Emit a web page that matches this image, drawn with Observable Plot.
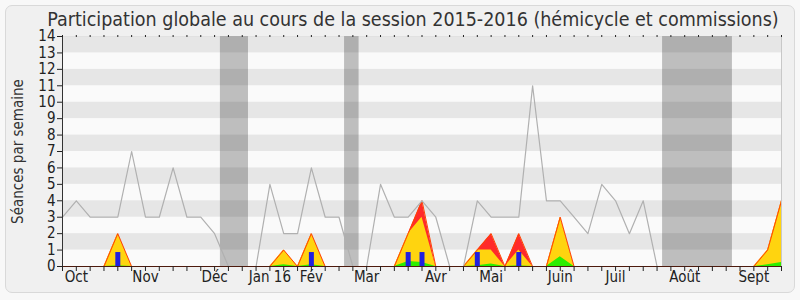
<!DOCTYPE html>
<html><head><meta charset="utf-8">
<script src="https://cdn.jsdelivr.net/npm/d3@7"></script>
<script src="https://cdn.jsdelivr.net/npm/@observablehq/plot@0.6"></script>
<style>
body{margin:0;background:#f8f8f8;}
#wrap{position:relative;width:800px;height:300px;overflow:hidden}
#box{position:absolute;left:5px;top:5px;width:788px;height:286px;border:1px solid #d9d9d9;border-radius:7px;background:#f0f0f0}
#chart{position:absolute;left:0;top:0}
</style></head><body><div id="wrap"><div id="box"></div><div id="chart"></div></div>
<script>
const titleText = "Participation globale au cours de la session 2015-2016 (hémicycle et commissions)";
const yLabel = "Séances par semaine";
const weeks = d3.range(0, 53);
// séances en hémicycle (ligne grise)
const seances = [3,4,3,3,3,7,3,3,6,3, 3,2,0,0,0,5,2,2,6,3, 3,0,0,5,3,3,4,3,0,0, 4,3,3,3,11,4,4,3,2,5, 4,2,4,0,0,0,0,0,0,0, 0,0,0];
// commission : total (rouge), présences (jaune), interventions (vert)
const commTotal = [0,0,0,0,2,0,0,0,0,0, 0,0,0,0,0,0,1,0,2,0, 0,0,0,0,0,2,4,0,0,0, 1,2,0,2,0,0,3,0,0,0, 0,0,0,0,0,0,0,0,0,0, 0,1,4];
const commPres  = [0,0,0,0,2,0,0,0,0,0, 0,0,0,0,0,0,1,0,2,0, 0,0,0,0,0,2,3,0,0,0, 1,1,0,1,0,0,3,0,0,0, 0,0,0,0,0,0,0,0,0,0, 0,1,4];
const commInterv= [0,0,0,0,0.05,0,0,0,0,0, 0,0,0,0,0,0,0.1,0,0.1,0, 0,0,0,0,0,0.3,0.25,0,0,0, 0.05,0.15,0,0.05,0,0,0.6,0,0,0, 0,0,0,0,0,0,0,0,0,0, 0,0.1,0.25];
// barres bleues
const barWeeks = [4,18,25,26,30,33];
const barValues = [0.85,0.85,0.85,0.85,0.85,0.85];
// vacances parlementaires (en semaines)
const vacStart = [11.42, 20.4, 43.4];
const vacEnd   = [13.45, 21.45, 48.45];
// étiquettes des mois
const monthTicks = [1,6,11,15,18,22,27,31,36,40,45,50];
const monthNames = ["Oct","Nov","Déc","Jan 16","Fév","Mar","Avr","Mai","Juin","Juil","Août","Sept"];
const yTicks = d3.range(0, 15);
const darkBands = [1,3,5,7,9,11,13];

const vac = vacStart.map((s,i)=>({s, e: vacEnd[i]}));
const bars = barWeeks.map((w,i)=>({w, v: barValues[i]}));

const chart = Plot.plot({
  width: 800, height: 300,
  marginLeft: 62, marginRight: 19, marginTop: 36, marginBottom: 34,
  x: {domain: [0, 52], axis: null},
  y: {domain: [0, 14], axis: null},
  style: {background: "transparent", fontFamily: "'DejaVu Sans Condensed', 'DejaVu Sans', sans-serif", fontStretch: "condensed", color: "#222"},
  marks: [
    Plot.frame({fill: "#fafafa", stroke: null}),
    Plot.rect(vac, {x1: "s", x2: "e", fill: "#bebebe"}),
    Plot.rect(darkBands, {y1: d => d, y2: d => d + 1, fill: "#000", fillOpacity: 0.08}),
    Plot.areaY(weeks, {x: d => d, y: d => commTotal[d], fill: "#ff2a2a"}),
    Plot.areaY(weeks, {x: d => d, y: d => commPres[d], fill: "#ffd40f"}),
    Plot.areaY(weeks, {x: d => d, y: d => commInterv[d], fill: "#2cee00"}),
    Plot.lineY(weeks, {x: d => d, y: d => commTotal[d], stroke: "#ff4400", strokeWidth: 1}),
    Plot.ruleX(bars, {x: "w", y1: 0, y2: "v", stroke: "#2020e0", strokeWidth: 5}),
    Plot.lineY(weeks, {x: d => d, y: d => seances[d], stroke: "#b0b0b0", strokeWidth: 1.2}),
    Plot.ruleX([52], {stroke: "#c8c8c8"}),
    Plot.ruleY([0], {stroke: "#4d1a0d"}),
    Plot.ruleX([0], {stroke: "#333"}),
    Plot.axisY({ticks: yTicks, tickSize: 5, tickPadding: 2, fontSize: 15, tickFormat: d => d, label: null}),
    Plot.axisX({ticks: weeks, tickSize: 5, tickFormat: () => "", label: null}),
    Plot.axisX({anchor: "top", ticks: weeks, tickSize: 2, tickFormat: () => "", label: null}),
    Plot.axisX(monthTicks, {tickSize: 0, tickPadding: 5, fontSize: 15, tickFormat: d => monthNames[monthTicks.indexOf(d)], label: null}),
    Plot.text([yLabel], {frameAnchor: "left", textAnchor: "middle", rotate: -90, dx: -44, fontSize: 15, fill: "#333"}),
    Plot.text([titleText], {frameAnchor: "top", lineAnchor: "bottom", dy: -10.5, dx: -9, fontSize: 19.5, fill: "#333"})
  ]
});
document.getElementById("chart").appendChild(chart);
</script></body></html>
